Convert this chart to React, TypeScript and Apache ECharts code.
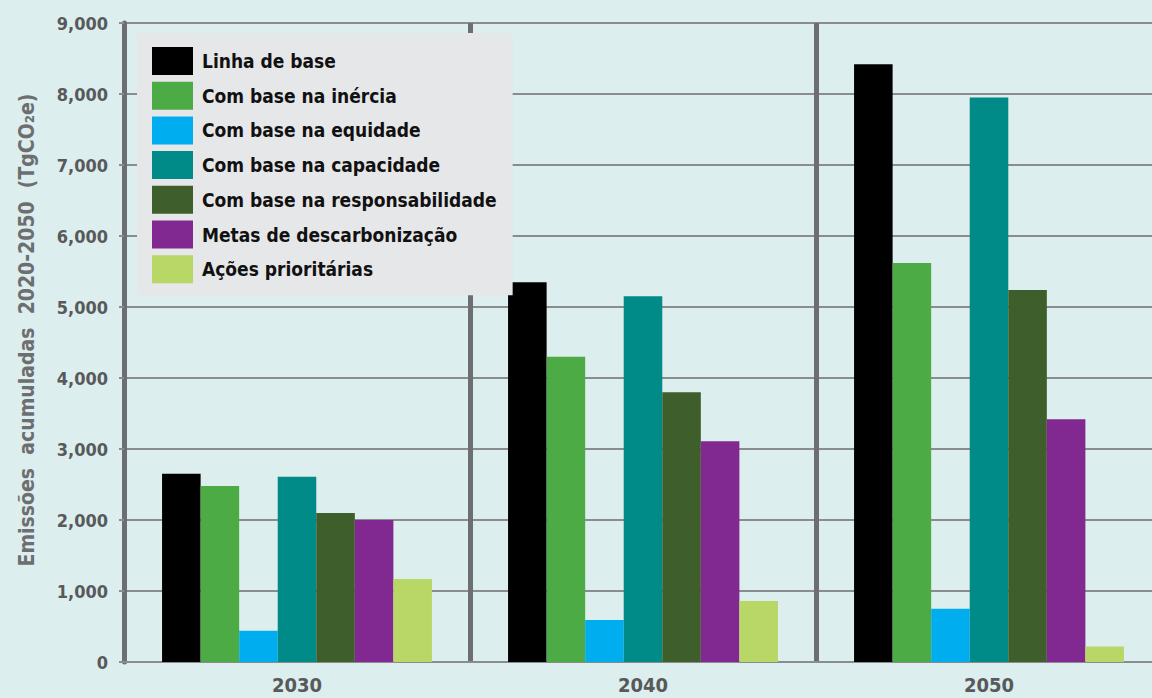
import React, { useEffect, useRef } from "react";
import * as echarts from "echarts";

const categories = ["2030", "2040", "2050"];
const seriesNames = [
  "Linha de base",
  "Com base na inércia",
  "Com base na equidade",
  "Com base na capacidade",
  "Com base na responsabilidade",
  "Metas de descarbonização",
  "Ações prioritárias",
];
const linhaDeBase = [2650, 5350, 8420];
const inercia = [2480, 4300, 5620];
const equidade = [440, 590, 750];
const capacidade = [2610, 5150, 7950];
const responsabilidade = [2100, 3800, 5240];
const metas = [2000, 3110, 3420];
const acoes = [1170, 860, 220];
const seriesValues = [linhaDeBase, inercia, equidade, capacidade, responsabilidade, metas, acoes];
const colors = ["#000000", "#4dab46", "#00aeef", "#008b89", "#3e5e2c", "#812990", "#b8d767"];
const yAxisTitle = "Emissões  acumuladas  2020-2050  (TgCO₂e)";

const FONT = "'DejaVu Sans Condensed', 'DejaVu Sans', sans-serif";

export default function App() {
  const ref = useRef<HTMLDivElement>(null);
  useEffect(() => {
    if (!ref.current) return;
    const chart = echarts.init(ref.current, undefined, { renderer: "svg" });
    chart.setOption({
      animation: false,
      backgroundColor: "#dceeed",
      grid: { left: 124, top: 23, width: 1038, height: 639, containLabel: false },
      legend: {
        orient: "vertical",
        left: 137,
        top: 33,
        backgroundColor: "#e6e7e8",
        padding: [14, 16, 12, 15],
        itemWidth: 41,
        itemHeight: 28,
        itemGap: 6.7,
        icon: "rect",
        data: seriesNames,
        textStyle: {
          fontFamily: FONT,
          fontSize: 19,
          fontWeight: "bold",
          color: "#111111",
          padding: [0, 0, 0, 4],
        },
      },
      graphic: [
        {
          type: "text",
          x: 27,
          y: 330,
          rotation: Math.PI / 2,
          style: {
            text: yAxisTitle,
            fontFamily: FONT,
            fontSize: 21,
            fontWeight: "bold",
            fill: "#6d6e71",
            align: "center",
            verticalAlign: "middle",
          },
        },
      ],
      xAxis: {
        type: "category",
        data: categories,
        axisLine: { show: true, lineStyle: { color: "#8a8c8e", width: 2 } },
        axisTick: { show: false },
        axisLabel: {
          fontFamily: FONT,
          fontSize: 20,
          fontWeight: "bold",
          color: "#58595b",
          margin: 13,
        },
        splitLine: { show: true, lineStyle: { color: "#6d6e71", width: 5 } },
      },
      yAxis: {
        type: "value",
        min: 0,
        max: 9000,
        interval: 1000,
        axisLine: { show: true, lineStyle: { color: "#6d6e71", width: 5 } },
        axisTick: { show: true, length: 5, lineStyle: { color: "#8a8c8e", width: 2 } },
        axisLabel: {
          fontFamily: FONT,
          fontSize: 18,
          fontWeight: "bold",
          color: "#58595b",
          margin: 16,
          formatter: (v: number) => v.toLocaleString("en-US"),
        },
        splitLine: { show: true, lineStyle: { color: "#8a8c8e", width: 2 } },
      },
      series: seriesNames.map((name, i) => ({
        name,
        type: "bar",
        data: seriesValues[i],
        itemStyle: { color: colors[i] },
        barGap: "0%",
        barCategoryGap: "22%",
      })),
    });
    return () => chart.dispose();
  }, []);
  return (
    <div
      style={{
        position: "absolute",
        left: 0,
        top: 0,
        width: 1152,
        height: 698,
        overflow: "hidden",
        background: "#dceeed",
      }}
    >
      <div ref={ref} style={{ width: 1164, height: 698 }} />
    </div>
  );
}
